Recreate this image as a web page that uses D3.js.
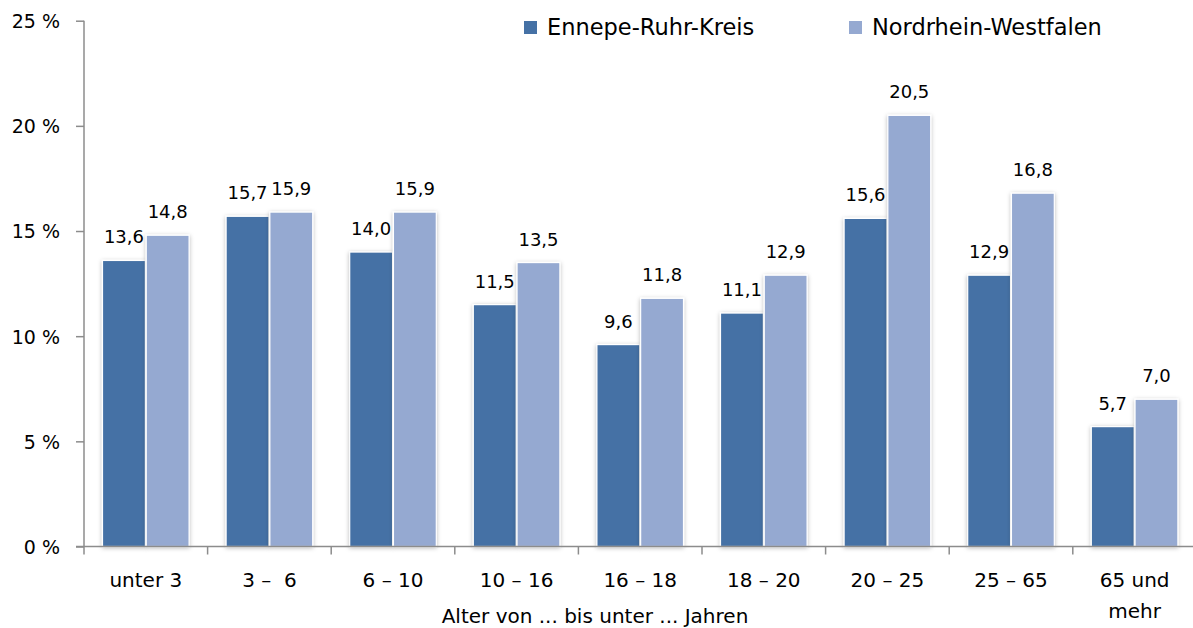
<!DOCTYPE html>
<html>
<head>
<meta charset="utf-8">
<script src="https://cdn.jsdelivr.net/npm/d3@7"></script>
<style>
  html, body { margin: 0; padding: 0; background: #fff; }
  svg { display: block; font-family: "DejaVu Sans", sans-serif; }
  svg text { white-space: pre; }
</style>
</head>
<body>
<svg id="chart" width="1193" height="628"></svg>
<script>
const categories = ["unter 3", "3 –  6", "6 – 10", "10 – 16", "16 – 18", "18 – 20", "20 – 25", "25 – 65", "65 und\nmehr"];
const seriesNames = ["Ennepe-Ruhr-Kreis", "Nordrhein-Westfalen"];
const ennepeRuhr = [13.6, 15.7, 14.0, 11.5, 9.6, 11.1, 15.6, 12.9, 5.7];
const nrw = [14.8, 15.9, 15.9, 13.5, 11.8, 12.9, 20.5, 16.8, 7.0];
const yTicks = [0, 5, 10, 15, 20, 25];
const colors = ["#4571a5", "#95a9d1"];
const xTitle = "Alter von ... bis unter ... Jahren";

const FONT = "DejaVu Sans";
const svg = d3.select("#chart");
const defs = svg.append("defs");
const f = defs.append("filter").attr("id", "shadow").attr("x", "-20%").attr("y", "-5%").attr("width", "140%").attr("height", "110%");
f.append("feDropShadow").attr("dx", 0).attr("dy", 1).attr("stdDeviation", 2).attr("flood-color", "#000").attr("flood-opacity", 0.28);

const x0 = d3.scaleBand().domain(categories.map((d, i) => i)).range([84, 1196.4]).padding(0);
const bw = x0.bandwidth();
const x1 = d3.scaleBand().domain([0, 1]).range([18.5, bw - 18.5]).paddingInner(0.02);
const y = d3.scaleLinear().domain([0, 25]).range([546.5, 20.7]);

const data = categories.map((c, i) => ({ i, vals: [ennepeRuhr[i], nrw[i]] }));

// bars
const groups = svg.append("g").selectAll("g").data(data).join("g")
  .attr("transform", d => `translate(${x0(d.i)},0)`);

groups.selectAll("rect").data(d => d.vals.map((v, s) => ({ v, s }))).join("rect")
  .attr("x", d => x1(d.s))
  .attr("y", d => y(d.v))
  .attr("width", x1.bandwidth())
  .attr("height", d => y(0) - y(d.v))
  .attr("fill", d => colors[d.s])
  .attr("stroke", "#fff")
  .attr("stroke-width", 1.2)
  .attr("filter", "url(#shadow)");

groups.selectAll("text.val").data(d => d.vals.map((v, s) => ({ v, s }))).join("text")
  .attr("class", "val")
  .attr("x", d => x1(d.s) + x1.bandwidth() / 2)
  .attr("y", d => y(d.v) - 17)
  .attr("text-anchor", "middle")
  .attr("font-family", FONT)
  .attr("font-size", 18)
  .attr("fill", "#000")
  .text(d => d.v.toFixed(1).replace(".", ","));

// y axis
const yAxis = d3.axisLeft(y).tickValues(yTicks).tickSize(8).tickPadding(16).tickFormat(d => d + " %");
const gy = svg.append("g").attr("transform", "translate(84,0)").call(yAxis);
gy.select(".domain").attr("stroke", "#8c8c8c").attr("stroke-width", 1.5).attr("d", `M0,${y(25)}V${y(0)}`);
gy.selectAll(".tick line").attr("stroke", "#8c8c8c").attr("stroke-width", 1.5);
gy.selectAll(".tick text").attr("font-size", 19).attr("fill", "#000").attr("font-family", FONT).attr("dy", "0.36em");

// x axis
const xAxis = d3.axisBottom(x0).tickSize(0).tickFormat("");
const gx = svg.append("g").attr("transform", `translate(0,${y(0)})`).call(xAxis);
gx.select(".domain").attr("stroke", "#8c8c8c").attr("stroke-width", 1.5).attr("d", `M76,0H1196.4`);
gx.selectAll(".tick").remove();
gx.selectAll("line.bt").data(categories.map((c, i) => i)).join("line")
  .attr("class", "bt")
  .attr("x1", d => x0(d)).attr("x2", d => x0(d))
  .attr("y1", 0).attr("y2", 8)
  .attr("stroke", "#8c8c8c").attr("stroke-width", 1.5);

// x labels
const xl = svg.append("g").selectAll("text").data(categories.map((c, i) => ({ c, i }))).join("text")
  .attr("x", d => x0(d.i) + bw / 2)
  .attr("y", 587)
  .attr("text-anchor", "middle")
  .attr("font-family", FONT)
  .attr("font-size", 20)
  .attr("fill", "#000");
xl.each(function(d) {
  const lines = d.c.split("\n");
  d3.select(this).selectAll("tspan").data(lines).join("tspan")
    .attr("x", x0(d.i) + bw / 2)
    .attr("dy", (l, k) => k === 0 ? 0 : 31)
    .text(l => l);
});

// x title
svg.append("text")
  .attr("x", 595).attr("y", 623)
  .attr("text-anchor", "middle")
  .attr("font-family", FONT)
  .attr("font-size", 20)
  .attr("fill", "#000")
  .text(xTitle);

// legend
const legendX = [524, 849];
const lg = svg.append("g").selectAll("g").data(seriesNames).join("g")
  .attr("transform", (d, i) => `translate(${legendX[i]},0)`);
lg.append("rect").attr("x", 0).attr("y", 21).attr("width", 13).attr("height", 13).attr("fill", (d, i) => colors[i]);
lg.append("text").attr("x", 23).attr("y", 35).attr("font-family", FONT).attr("font-size", 22.5).attr("fill", "#000").text(d => d);
</script>
</body>
</html>
